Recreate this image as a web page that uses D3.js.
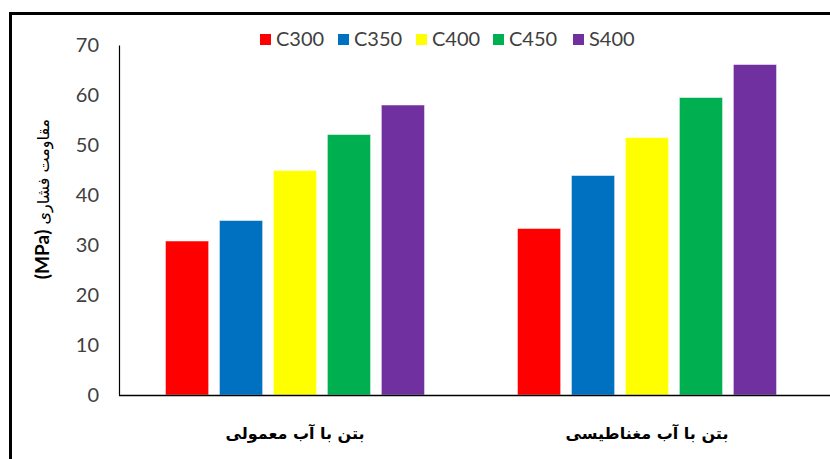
<!DOCTYPE html>
<html>
<head>
<meta charset="utf-8">
<script src="https://cdn.jsdelivr.net/npm/d3@7"></script>
<style>
  html, body { margin: 0; padding: 0; background: #fff; }
  svg { display: block; }
</style>
</head>
<body>
<svg id="chart" width="830" height="459"></svg>
<script>
// ---- data ----
const categories = ["بتن با آب معمولی", "بتن با آب مغناطیسی"];
const seriesNames = ["C300", "C350", "C400", "C450", "S400"];
const seriesColors = ["#FF0000", "#0070C0", "#FFFF00", "#00B050", "#7030A0"];
const C300 = [30.8, 33.3];
const C350 = [34.9, 43.9];
const C400 = [44.9, 51.5];
const C450 = [52.1, 59.5];
const S400 = [58.0, 66.1];
const yTicks = [0, 10, 20, 30, 40, 50, 60, 70];
const yTitle = "مقاومت فشاری ";
const yUnit = "(MPa)";

const seriesValues = [C300, C350, C400, C450, S400];

const svg = d3.select("#chart");
const W = 830, H = 459;
const plot = { left: 119, right: 823, top: 45, bottom: 395 };

// frame
svg.append("rect").attr("x", 0).attr("y", 0).attr("width", W).attr("height", H).attr("fill", "#fff");
svg.append("path")
  .attr("d", `M10.5,${H + 5} L10.5,13.5 L${W + 5},13.5`)
  .attr("fill", "none").attr("stroke", "#000").attr("stroke-width", 3);

const x0 = d3.scaleBand().domain(categories).range([plot.left, plot.right])
  .paddingInner(0.264).paddingOuter(0.132);
const x1 = d3.scaleBand().domain(seriesNames).range([0, x0.bandwidth()])
  .paddingInner(0.2).paddingOuter(0);
const y = d3.scaleLinear().domain([0, 70]).range([plot.bottom, plot.top]);

// bars
const groups = svg.append("g").selectAll("g").data(categories).join("g")
  .attr("transform", d => `translate(${x0(d)},0)`);
groups.selectAll("rect")
  .data((c, ci) => seriesNames.map((s, si) => ({ s, si, v: seriesValues[si][ci] })))
  .join("rect")
  .attr("x", d => x1(d.s))
  .attr("y", d => y(d.v))
  .attr("width", x1.bandwidth())
  .attr("height", d => y(0) - y(d.v))
  .attr("fill", d => seriesColors[d.si])
  .attr("stroke", "rgba(255,255,255,0.5)")
  .attr("stroke-width", 1);

// y axis
const yAxis = d3.axisLeft(y).tickValues(yTicks).tickSize(0).tickSizeOuter(0).tickPadding(20);
const gy = svg.append("g").attr("transform", `translate(${plot.left},0)`).call(yAxis);
gy.select(".domain").attr("stroke", "#000").attr("stroke-width", 1.2);
gy.selectAll(".tick text")
  .attr("font-family", "Lato, 'Open Sans', sans-serif")
  .attr("font-size", 20)
  .attr("fill", "#404040");

// x axis
const xAxis = d3.axisBottom(x0).tickSize(0).tickSizeOuter(0).tickPadding(0);
const gx = svg.append("g").attr("transform", `translate(0,${plot.bottom})`).call(xAxis);
gx.select(".domain").remove();
gx.append("line").attr("x1", plot.left).attr("x2", W).attr("y1", 0.5).attr("y2", 0.5)
  .attr("stroke", "#000").attr("stroke-width", 1.5);
gx.selectAll(".tick text")
  .attr("y", 44)
  .attr("dy", null)
  .attr("direction", "rtl")
  .attr("font-family", "'DejaVu Sans', sans-serif")
  .attr("font-weight", "bold")
  .attr("font-size", 16)
  .attr("fill", "#000");

// y title
const yt = svg.append("text")
  .attr("transform", "translate(49,199) rotate(-90)")
  .attr("text-anchor", "middle")
  .attr("direction", "rtl")
  .attr("fill", "#000");
yt.append("tspan").attr("font-family", "'DejaVu Sans', sans-serif").attr("font-size", 16).text(yTitle);
yt.append("tspan").attr("font-family", "Lato, sans-serif").attr("font-weight", "bold").attr("font-size", 19).text(yUnit);

// legend
const legendX = [260, 338, 416, 493, 573];
const lg = svg.append("g").selectAll("g").data(seriesNames).join("g")
  .attr("transform", (d, i) => `translate(${legendX[i]},34)`);
lg.append("rect").attr("width", 11).attr("height", 11).attr("fill", (d, i) => seriesColors[i]);
lg.append("text").attr("x", 16).attr("y", 11.5)
  .attr("font-family", "Lato, 'Open Sans', sans-serif")
  .attr("font-size", 20)
  .attr("fill", "#404040")
  .text(d => d);
</script>
</body>
</html>
